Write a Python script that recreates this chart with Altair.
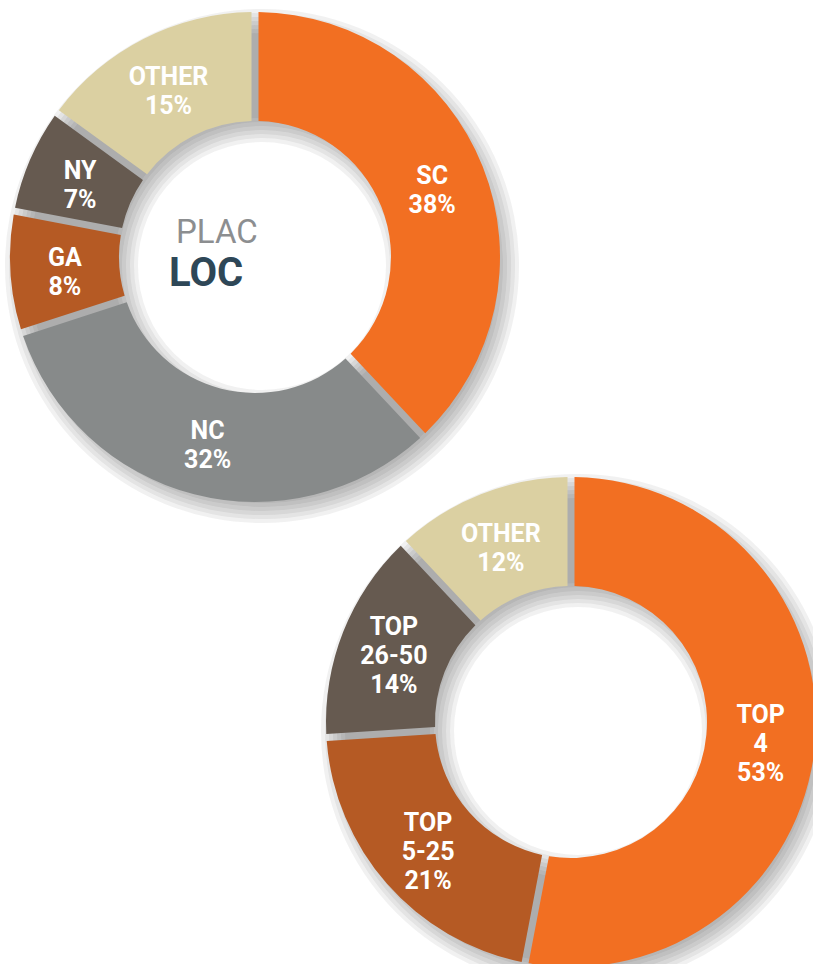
import math
import altair as alt
import pandas as pd

# ---- data ----
loc_names = ["SC", "NC", "GA", "NY", "OTHER"]
loc_values = [38, 32, 8, 7, 15]

rank_names = ["TOP 4", "TOP 5-25", "TOP 26-50", "OTHER"]
rank_values = [53, 21, 14, 12]

color_domain = ["SC", "NC", "GA", "NY", "OTHER", "TOP 4", "TOP 5-25", "TOP 26-50"]
color_range = ["#F26F22", "#878A8A", "#B55A24", "#665A50", "#DBD0A2",
               "#F26F22", "#B55A24", "#665A50"]

center_words = ["PLAC", "LOC"]


def frame(names, values):
    labels = [n.replace(" ", "\n") + "\n" + str(v) + "%" for n, v in zip(names, values)]
    return pd.DataFrame({
        "name": names,
        "value": values,
        "order": list(range(len(names))),
        "label": labels,
        "lines": [lab.count("\n") + 1 for lab in labels],
    })


loc_df = frame(loc_names, loc_values)
rank_df = frame(rank_names, rank_values)

W, H = 813, 964
RO, RI = 245, 136
LH = 29
LABEL_FONT = "Roboto, sans-serif"

color = alt.Color("name:N", scale=alt.Scale(domain=color_domain, range=color_range), legend=None)
theta_scale = alt.Scale(domain=[0, 100])


def donut(df, cx, cy):
    layers = []
    one = pd.DataFrame({"a": [0]})
    # soft drop shadow
    for s in [-12, -8, -4, 0, 4, 8, 12]:
        layers.append(
            alt.Chart(one).mark_arc(
                theta=0, theta2=2 * math.pi,
                innerRadius=max(RI - s, 0), outerRadius=RO + s,
                color="#3a3a3a", opacity=0.07,
            ).encode(x=alt.value(cx + 7), y=alt.value(cy + 9))
        )
    stacked = alt.Chart(df).transform_stack(
        stack="value", groupby=[], as_=["v0", "v1"],
        sort=[alt.SortField("order", order="ascending")],
    ).transform_calculate(mid="(datum.v0 + datum.v1) / 2")
    layers.append(
        stacked.mark_arc(innerRadius=RI, outerRadius=RO, padAngle=0.025).encode(
            theta=alt.Theta("v0:Q", scale=theta_scale), theta2="v1:Q",
            color=color, x=alt.value(cx), y=alt.value(cy),
        )
    )
    for n in sorted(set(df["lines"])):
        layers.append(
            stacked.transform_filter(alt.datum.lines == n).mark_text(
                radius=(RO + RI) / 2, font=LABEL_FONT, fontWeight="bold", fontSize=25,
                lineBreak="\n", lineHeight=LH, color="white", align="center",
                baseline="middle", dy=-(n - 1) * LH / 2 + 4,
            ).encode(
                theta=alt.Theta("mid:Q", scale=theta_scale),
                text="label:N", x=alt.value(cx), y=alt.value(cy),
            )
        )
    return layers


layers = donut(loc_df, 255, 257) + donut(rank_df, 571, 722)

words = pd.DataFrame({"w": center_words})
layers.append(
    alt.Chart(words).transform_filter(alt.datum.w == "PLAC").mark_text(
        font=LABEL_FONT, fontSize=33, color="#8C8E90", align="left", baseline="alphabetic"
    ).encode(text="w:N", x=alt.value(176), y=alt.value(243))
)
layers.append(
    alt.Chart(words).transform_filter(alt.datum.w == "LOC").mark_text(
        font=LABEL_FONT, fontSize=40, fontWeight="bold", color="#2E4757",
        align="left", baseline="alphabetic"
    ).encode(text="w:N", x=alt.value(169), y=alt.value(286))
)

chart = alt.layer(*layers).properties(
    width=W, height=H,
    autosize=alt.AutoSizeParams(type="none"),
    padding=0,
).configure_view(stroke=None)

chart.save("out.html", embed_options={"renderer": "svg", "actions": False})
